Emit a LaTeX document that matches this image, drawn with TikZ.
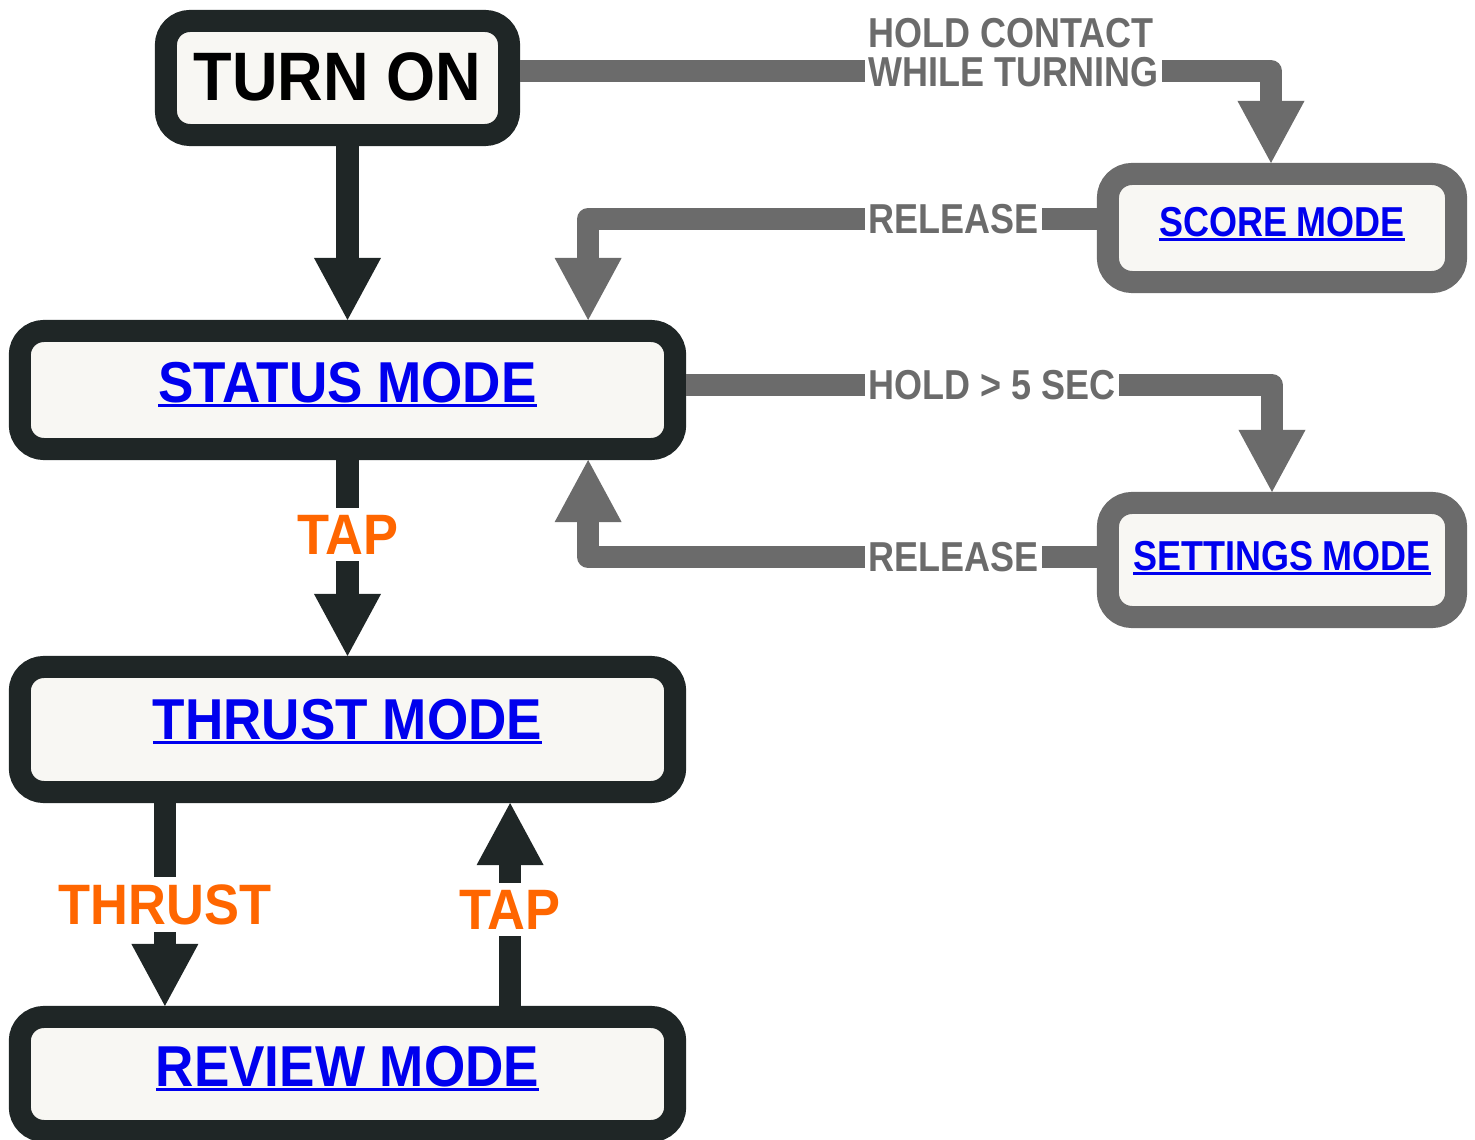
\documentclass[tikz,border=0pt]{standalone}
\usepackage{fontspec}
\setmainfont{Liberation Sans}
\newfontfamily\bigf[FakeStretch=0.92]{Liberation Sans}
\newfontfamily\smallf[FakeStretch=0.86]{Liberation Sans}
\usetikzlibrary{arrows.meta}
\definecolor{dark}{HTML}{1F2626}
\definecolor{gry}{HTML}{6B6B6B}
\definecolor{paper}{HTML}{F8F7F3}
\definecolor{lnkblue}{HTML}{0000EE}
\definecolor{tapor}{HTML}{FF6600}
\newcommand\lnk[1]{\setbox0\hbox{#1}\rlap{\rule[-1.4pt]{\wd0}{0.85pt}}\box0}

\begin{document}
\begin{tikzpicture}[x=0.01cm, y=-0.01cm,
	box/.style={draw=dark, line width=0.22cm, fill=paper, rounded corners=0.24cm, inner sep=0pt},
	gbox/.style={box, draw=gry},
	mode/.style={text=lnkblue, font=\bigf\bfseries\fontsize{16.4}{18}\selectfont, text height=11.7pt, text depth=4.6pt},
	smode/.style={text=lnkblue, font=\smallf\bfseries\fontsize{11.9}{13}\selectfont, text height=8.5pt},
	link/.style={line width=0.22cm, line join=round, -{Triangle[width=0.67cm, length=0.62cm, line width=0pt]}},
	dlink/.style={link, dark},
	glink/.style={link, gry},
	tap/.style={fill=white, text=tapor, font=\bigf\bfseries\fontsize{16.2}{18}\selectfont, inner sep=2pt},
	glabel/.style={fill=white, text=gry, font=\smallf\bfseries\fontsize{11.9}{11.1}\selectfont, inner sep=1pt, align=left}]
	\useasboundingbox (0,0) rectangle (1475,1140);

	% mode boxes
	\node[box, minimum width=3.43cm, minimum height=1.14cm, font=\bigf\bfseries\fontsize{19.5}{21}\selectfont, text height=13.7pt, text depth=1pt] (on) at (337.5,78) {TURN ON};
	\node[box, mode, minimum width=6.55cm, minimum height=1.18cm] (status) at (347.5,390) {\lnk{STATUS MODE}};
	\node[box, mode, minimum width=6.55cm, minimum height=1.25cm, text depth=6pt] (thrust) at (347.5,729.5) {\lnk{THRUST MODE}};
	\node[box, mode, minimum width=6.55cm, minimum height=1.14cm] (review) at (347.5,1074) {\lnk{REVIEW MODE}};
	\node[gbox, smode, minimum width=3.48cm, minimum height=1.08cm, text depth=3.7pt] (score) at (1282,228) {\lnk{SCORE MODE}};
	\node[gbox, smode, minimum width=3.48cm, minimum height=1.14cm, text depth=2.8pt] (settings) at (1282,560) {\lnk{SETTINGS MODE}};

	% main flow
	\draw[dlink] (status.north |- on.south) -- (status.north);
	\draw[dlink] (status.south) -- node[tap, pos=.38] (tap1) {TAP} (thrust.north);
	\draw[dlink] ([xshift=-1.825cm]thrust.south) -- node[tap] (thr) {THRUST} ([xshift=-1.825cm]review.north);
	\draw[dlink] ([xshift=1.625cm]review.north) -- node[tap, pos=.475] (tap2) {TAP} ([xshift=1.625cm]thrust.south);

	% side modes
	\draw[glink] ([yshift=0.07cm]on.east) -| ([xshift=-0.11cm]score.north);
	\draw[glink] ([yshift=0.09cm]score.west) -| ([xshift=2.405cm]status.north);
	\draw[glink] ([yshift=0.05cm]status.east) -| ([xshift=-0.1cm]settings.north);
	\draw[glink] ([yshift=0.03cm]settings.west) -| ([xshift=2.405cm]status.south);

	% gray labels
	\node[glabel, anchor=west] (hold1) at (864,53) {HOLD CONTACT\\WHILE TURNING};
	\node[glabel, anchor=west] (rel1) at (864,219) {RELEASE};
	\node[glabel, anchor=west] (hold2) at (864,385) {HOLD > 5 SEC};
	\node[glabel, anchor=west] (rel2) at (864,557) {RELEASE};
\end{tikzpicture}
\end{document}
